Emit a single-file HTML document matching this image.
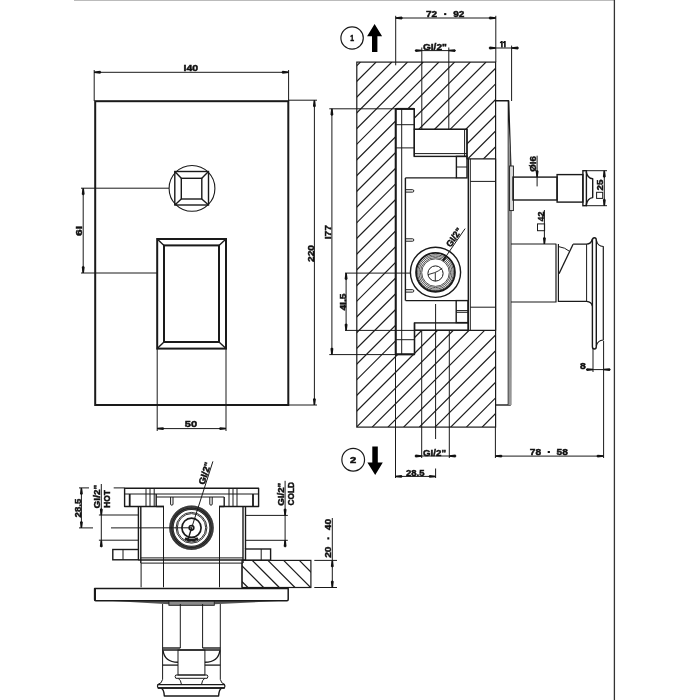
<!DOCTYPE html>
<html><head><meta charset="utf-8"><style>
html,body{margin:0;padding:0;background:#fff;}
svg{display:block;will-change:transform;font-family:"Liberation Sans",sans-serif;}
</style></head><body>
<svg width="700" height="700" viewBox="0 0 700 700">
<rect width="700" height="700" fill="#fff"/>
<line x1="74.00" y1="0.50" x2="614.40" y2="0.50" stroke="#bbb" stroke-width="1.0" />
<line x1="614.40" y1="0.00" x2="614.40" y2="700.00" stroke="#333" stroke-width="1.3" />
<rect x="95.20" y="101.20" width="193.10" height="303.80" stroke="#1a1a1a" stroke-width="2.0" fill="none" />
<line x1="94.20" y1="70.00" x2="94.20" y2="101.00" stroke="#1a1a1a" stroke-width="1.0" />
<line x1="288.60" y1="70.00" x2="288.60" y2="101.00" stroke="#1a1a1a" stroke-width="1.0" />
<line x1="94.20" y1="72.30" x2="288.60" y2="72.30" stroke="#1a1a1a" stroke-width="1.0" />
<polygon points="94.20,71.55 100.20,70.85 101.40,72.30 100.20,73.75 94.20,73.05" fill="#111"/>
<polygon points="288.60,71.55 282.60,70.85 281.40,72.30 282.60,73.75 288.60,73.05" fill="#111"/>
<g transform="translate(190.90 68.10)"><text x="0.00" y="3.28" font-size="9.1" font-weight="bold" text-anchor="middle" fill="#111" stroke="#111" stroke-width="0.45" textLength="14.6" lengthAdjust="spacingAndGlyphs">I40</text></g>
<circle cx="192.00" cy="188.40" r="22.90" stroke="#1a1a1a" stroke-width="1.1" fill="none"/>
<rect x="174.80" y="171.50" width="33.70" height="33.50" stroke="#1a1a1a" stroke-width="1.4" fill="none" />
<rect x="181.30" y="178.30" width="20.50" height="20.70" stroke="#1a1a1a" stroke-width="1.4" fill="none" />
<line x1="174.80" y1="171.50" x2="181.30" y2="178.30" stroke="#1a1a1a" stroke-width="1.4" />
<line x1="208.50" y1="171.50" x2="201.80" y2="178.30" stroke="#1a1a1a" stroke-width="1.4" />
<line x1="174.80" y1="205.00" x2="181.30" y2="199.00" stroke="#1a1a1a" stroke-width="1.4" />
<line x1="208.50" y1="205.00" x2="201.80" y2="199.00" stroke="#1a1a1a" stroke-width="1.4" />
<line x1="81.00" y1="188.20" x2="169.00" y2="188.20" stroke="#1a1a1a" stroke-width="1.0" />
<line x1="81.00" y1="273.00" x2="157.20" y2="273.00" stroke="#1a1a1a" stroke-width="1.0" />
<line x1="83.20" y1="188.20" x2="83.20" y2="273.00" stroke="#1a1a1a" stroke-width="1.0" />
<polygon points="82.45,188.20 81.75,194.20 83.20,195.40 84.65,194.20 83.95,188.20" fill="#111"/>
<polygon points="82.45,273.00 81.75,267.00 83.20,265.80 84.65,267.00 83.95,273.00" fill="#111"/>
<g transform="translate(79.00 231.00) rotate(-90)"><text x="0.00" y="3.28" font-size="9.1" font-weight="bold" text-anchor="middle" fill="#111" stroke="#111" stroke-width="0.45" textLength="10" lengthAdjust="spacingAndGlyphs">6I</text></g>
<rect x="157.20" y="239.00" width="68.80" height="109.60" stroke="#1a1a1a" stroke-width="2.0" fill="none" />
<rect x="164.00" y="245.40" width="55.00" height="96.60" stroke="#1a1a1a" stroke-width="2.0" fill="none" />
<line x1="157.20" y1="239.00" x2="164.00" y2="245.40" stroke="#1a1a1a" stroke-width="1.4" />
<line x1="226.00" y1="239.00" x2="219.00" y2="245.40" stroke="#1a1a1a" stroke-width="1.4" />
<line x1="157.20" y1="348.60" x2="164.00" y2="342.00" stroke="#1a1a1a" stroke-width="1.4" />
<line x1="226.00" y1="348.60" x2="219.00" y2="342.00" stroke="#1a1a1a" stroke-width="1.4" />
<line x1="157.20" y1="348.60" x2="157.20" y2="431.00" stroke="#1a1a1a" stroke-width="1.0" />
<line x1="226.00" y1="348.60" x2="226.00" y2="431.00" stroke="#1a1a1a" stroke-width="1.0" />
<line x1="157.20" y1="428.60" x2="226.00" y2="428.60" stroke="#1a1a1a" stroke-width="1.0" />
<polygon points="157.20,427.85 163.20,427.15 164.40,428.60 163.20,430.05 157.20,429.35" fill="#111"/>
<polygon points="226.00,427.85 220.00,427.15 218.80,428.60 220.00,430.05 226.00,429.35" fill="#111"/>
<g transform="translate(190.90 424.20)"><text x="0.00" y="3.28" font-size="9.1" font-weight="bold" text-anchor="middle" fill="#111" stroke="#111" stroke-width="0.45" textLength="12.3" lengthAdjust="spacingAndGlyphs">50</text></g>
<line x1="288.50" y1="100.20" x2="317.00" y2="100.20" stroke="#1a1a1a" stroke-width="1.0" />
<line x1="288.50" y1="405.00" x2="317.00" y2="405.00" stroke="#1a1a1a" stroke-width="1.0" />
<line x1="314.40" y1="100.20" x2="314.40" y2="405.00" stroke="#1a1a1a" stroke-width="1.0" />
<polygon points="313.65,100.20 312.95,106.20 314.40,107.40 315.85,106.20 315.15,100.20" fill="#111"/>
<polygon points="313.65,405.00 312.95,399.00 314.40,397.80 315.85,399.00 315.15,405.00" fill="#111"/>
<g transform="translate(310.50 253.50) rotate(-90)"><text x="0.00" y="3.28" font-size="9.1" font-weight="bold" text-anchor="middle" fill="#111" stroke="#111" stroke-width="0.45" textLength="17" lengthAdjust="spacingAndGlyphs">220</text></g>
<line x1="329.30" y1="108.80" x2="414.30" y2="108.80" stroke="#1a1a1a" stroke-width="1.0" />
<line x1="329.30" y1="354.60" x2="414.30" y2="354.60" stroke="#1a1a1a" stroke-width="1.0" />
<line x1="331.90" y1="108.80" x2="331.90" y2="354.60" stroke="#1a1a1a" stroke-width="1.0" />
<polygon points="331.15,108.80 330.45,114.80 331.90,116.00 333.35,114.80 332.65,108.80" fill="#111"/>
<polygon points="331.15,354.60 330.45,348.60 331.90,347.40 333.35,348.60 332.65,354.60" fill="#111"/>
<g transform="translate(327.80 232.10) rotate(-90)"><text x="0.00" y="3.28" font-size="9.1" font-weight="bold" text-anchor="middle" fill="#111" stroke="#111" stroke-width="0.45" textLength="14.3" lengthAdjust="spacingAndGlyphs">I77</text></g>
<line x1="345.00" y1="273.10" x2="410.00" y2="273.10" stroke="#1a1a1a" stroke-width="1.0" />
<line x1="345.00" y1="330.40" x2="414.50" y2="330.40" stroke="#1a1a1a" stroke-width="1.0" />
<line x1="346.10" y1="273.10" x2="346.10" y2="330.40" stroke="#1a1a1a" stroke-width="1.0" />
<polygon points="345.35,273.10 344.65,279.10 346.10,280.30 347.55,279.10 346.85,273.10" fill="#111"/>
<polygon points="345.35,330.40 344.65,324.40 346.10,323.20 347.55,324.40 346.85,330.40" fill="#111"/>
<g transform="translate(342.40 302.10) rotate(-90)"><text x="0.00" y="3.28" font-size="9.1" font-weight="bold" text-anchor="middle" fill="#111" stroke="#111" stroke-width="0.45" textLength="17" lengthAdjust="spacingAndGlyphs">4I.5</text></g>
<defs><clipPath id="wallclip"><path clip-rule="evenodd" d="M356.8,62.1 H495.6 V427.1 H356.8 Z M395.7,108.7 L414.3,108.7 L414.3,129.3 L467,129.3 L467,158.8 L495.6,158.8 L495.6,330.3 L414.5,330.3 L414.5,354.3 L395.7,354.3 Z"/></clipPath><clipPath id="wall2"><rect x="242" y="560.4" width="68.9" height="27.1"/></clipPath></defs>
<g clip-path="url(#wallclip)" stroke="#1a1a1a" stroke-width="1.2"><line x1="-20.30" y1="427.10" x2="344.70" y2="62.10"/><line x1="-4.60" y1="427.10" x2="360.40" y2="62.10"/><line x1="11.10" y1="427.10" x2="376.10" y2="62.10"/><line x1="26.80" y1="427.10" x2="391.80" y2="62.10"/><line x1="42.50" y1="427.10" x2="407.50" y2="62.10"/><line x1="58.20" y1="427.10" x2="423.20" y2="62.10"/><line x1="73.90" y1="427.10" x2="438.90" y2="62.10"/><line x1="89.60" y1="427.10" x2="454.60" y2="62.10"/><line x1="105.30" y1="427.10" x2="470.30" y2="62.10"/><line x1="121.00" y1="427.10" x2="486.00" y2="62.10"/><line x1="136.70" y1="427.10" x2="501.70" y2="62.10"/><line x1="152.40" y1="427.10" x2="517.40" y2="62.10"/><line x1="168.10" y1="427.10" x2="533.10" y2="62.10"/><line x1="183.80" y1="427.10" x2="548.80" y2="62.10"/><line x1="199.50" y1="427.10" x2="564.50" y2="62.10"/><line x1="215.20" y1="427.10" x2="580.20" y2="62.10"/><line x1="230.90" y1="427.10" x2="595.90" y2="62.10"/><line x1="246.60" y1="427.10" x2="611.60" y2="62.10"/><line x1="262.30" y1="427.10" x2="627.30" y2="62.10"/><line x1="278.00" y1="427.10" x2="643.00" y2="62.10"/><line x1="293.70" y1="427.10" x2="658.70" y2="62.10"/><line x1="309.40" y1="427.10" x2="674.40" y2="62.10"/><line x1="325.10" y1="427.10" x2="690.10" y2="62.10"/><line x1="340.80" y1="427.10" x2="705.80" y2="62.10"/><line x1="356.50" y1="427.10" x2="721.50" y2="62.10"/><line x1="372.20" y1="427.10" x2="737.20" y2="62.10"/><line x1="387.90" y1="427.10" x2="752.90" y2="62.10"/><line x1="403.60" y1="427.10" x2="768.60" y2="62.10"/><line x1="419.30" y1="427.10" x2="784.30" y2="62.10"/><line x1="435.00" y1="427.10" x2="800.00" y2="62.10"/><line x1="450.70" y1="427.10" x2="815.70" y2="62.10"/><line x1="466.40" y1="427.10" x2="831.40" y2="62.10"/><line x1="482.10" y1="427.10" x2="847.10" y2="62.10"/></g>
<rect x="356.80" y="62.10" width="138.80" height="365.00" stroke="#1a1a1a" stroke-width="1.2" fill="none" />
<path d="M395.7,108.7 L414.3,108.7 L414.3,129.3 L467,129.3 L467,158.8 L495.6,158.8 L495.6,330.3 L414.5,330.3 L414.5,354.3 L395.7,354.3 Z" stroke="#1a1a1a" stroke-width="1.2" fill="none" stroke-linejoin="round" />
<line x1="395.70" y1="15.80" x2="395.70" y2="65.30" stroke="#1a1a1a" stroke-width="1.0" />
<line x1="495.80" y1="15.80" x2="495.80" y2="62.10" stroke="#1a1a1a" stroke-width="1.0" />
<line x1="395.70" y1="18.00" x2="495.80" y2="18.00" stroke="#1a1a1a" stroke-width="1.0" />
<polygon points="395.70,17.25 401.70,16.55 402.90,18.00 401.70,19.45 395.70,18.75" fill="#111"/>
<polygon points="495.80,17.25 489.80,16.55 488.60,18.00 489.80,19.45 495.80,18.75" fill="#111"/>
<g transform="translate(445.20 14.00)"><text x="-13.60" y="3.28" font-size="9.1" font-weight="bold" text-anchor="middle" fill="#111" stroke="#111" stroke-width="0.45" textLength="11.2" lengthAdjust="spacingAndGlyphs">72</text><text x="13.60" y="3.28" font-size="9.1" font-weight="bold" text-anchor="middle" fill="#111" stroke="#111" stroke-width="0.45" textLength="11.2" lengthAdjust="spacingAndGlyphs">92</text><rect x="-1.1" y="-0.9" width="2.2" height="2" fill="#111"/></g>
<line x1="421.80" y1="47.50" x2="421.80" y2="129.30" stroke="#1a1a1a" stroke-width="1.0" />
<line x1="448.80" y1="47.50" x2="448.80" y2="129.30" stroke="#1a1a1a" stroke-width="1.0" />
<line x1="416.00" y1="50.60" x2="454.60" y2="50.60" stroke="#1a1a1a" stroke-width="1.0" />
<polygon points="421.80,49.85 415.80,49.15 414.60,50.60 415.80,52.05 421.80,51.35" fill="#111"/>
<polygon points="448.80,49.85 454.80,49.15 456.00,50.60 454.80,52.05 448.80,51.35" fill="#111"/>
<g transform="translate(434.90 47.20)"><text x="0.00" y="3.28" font-size="9.1" font-weight="bold" text-anchor="middle" fill="#111" stroke="#111" stroke-width="0.45" textLength="24" lengthAdjust="spacingAndGlyphs">GI/2&quot;</text></g>
<line x1="511.60" y1="45.60" x2="511.60" y2="101.00" stroke="#1a1a1a" stroke-width="1.0" />
<line x1="489.80" y1="48.00" x2="517.70" y2="48.00" stroke="#1a1a1a" stroke-width="1.0" />
<polygon points="495.80,47.25 489.80,46.55 488.60,48.00 489.80,49.45 495.80,48.75" fill="#111"/>
<polygon points="511.80,47.25 517.80,46.55 519.00,48.00 517.80,49.45 511.80,48.75" fill="#111"/>
<path d="M501.1,40.9 H502.7 V47.4 H501.1 V43 L499.9,43.3 V42.2 Z M504.1,40.9 H505.7 V47.4 H504.1 V43 L502.9,43.3 V42.2 Z" fill="#111"/>
<circle cx="352.10" cy="38.00" r="11.20" stroke="#1a1a1a" stroke-width="1.2" fill="none"/>
<g transform="translate(352.20 38.20)"><text x="0.00" y="3.10" font-size="8.6" font-weight="bold" text-anchor="middle" fill="#111" stroke="#111" stroke-width="0.5" textLength="3.8" lengthAdjust="spacingAndGlyphs">1</text></g>
<polygon points="374.6,23.9 382.1,36.3 377.4,36.3 377.4,52.1 372,52.1 372,36.3 367.1,36.3" fill="#000"/>
<line x1="395.70" y1="108.70" x2="395.70" y2="354.30" stroke="#1a1a1a" stroke-width="2.0" />
<line x1="401.70" y1="108.70" x2="401.70" y2="354.30" stroke="#1a1a1a" stroke-width="1.0" />
<line x1="414.30" y1="108.70" x2="414.30" y2="156.40" stroke="#1a1a1a" stroke-width="1.4" />
<line x1="395.70" y1="108.90" x2="414.30" y2="108.90" stroke="#1a1a1a" stroke-width="2.0" />
<line x1="395.70" y1="124.70" x2="414.30" y2="124.70" stroke="#1a1a1a" stroke-width="1.0" />
<line x1="395.70" y1="147.90" x2="414.30" y2="147.90" stroke="#1a1a1a" stroke-width="1.0" />
<line x1="395.70" y1="339.70" x2="414.50" y2="339.70" stroke="#1a1a1a" stroke-width="1.0" />
<line x1="395.70" y1="354.30" x2="414.50" y2="354.30" stroke="#1a1a1a" stroke-width="2.0" />
<line x1="414.50" y1="322.90" x2="414.50" y2="354.30" stroke="#1a1a1a" stroke-width="1.4" />
<rect x="414.30" y="129.30" width="52.70" height="27.10" stroke="#1a1a1a" stroke-width="1.4" fill="none" />
<line x1="414.30" y1="153.60" x2="467.00" y2="153.60" stroke="#1a1a1a" stroke-width="1.0" />
<line x1="464.60" y1="129.30" x2="464.60" y2="156.40" stroke="#1a1a1a" stroke-width="1.0" />
<rect x="456.40" y="156.40" width="10.60" height="21.50" stroke="#1a1a1a" stroke-width="1.4" fill="none" />
<line x1="456.40" y1="167.00" x2="467.00" y2="167.00" stroke="#1a1a1a" stroke-width="1.0" />
<line x1="405.40" y1="177.90" x2="456.40" y2="177.90" stroke="#1a1a1a" stroke-width="1.4" />
<line x1="405.40" y1="177.90" x2="405.40" y2="300.60" stroke="#1a1a1a" stroke-width="1.4" />
<line x1="405.60" y1="300.60" x2="456.20" y2="300.60" stroke="#1a1a1a" stroke-width="1.4" />
<line x1="468.30" y1="158.80" x2="468.30" y2="330.30" stroke="#1a1a1a" stroke-width="1.4" />
<line x1="470.30" y1="158.80" x2="470.30" y2="330.30" stroke="#1a1a1a" stroke-width="1.0" />
<path d="M405.4,189.70000000000002 H412.6 A1.2,1.2 0 0 1 412.6,192.1 H405.4" stroke="#1a1a1a" stroke-width="1.0" fill="none" stroke-linejoin="round" />
<path d="M405.4,238.8 H412.6 A1.2,1.2 0 0 1 412.6,241.2 H405.4" stroke="#1a1a1a" stroke-width="1.0" fill="none" stroke-linejoin="round" />
<path d="M405.4,289.7 H412.6 A1.2,1.2 0 0 1 412.6,292.09999999999997 H405.4" stroke="#1a1a1a" stroke-width="1.0" fill="none" stroke-linejoin="round" />
<rect x="456.20" y="300.60" width="11.80" height="22.00" stroke="#1a1a1a" stroke-width="1.4" fill="none" />
<line x1="456.20" y1="310.60" x2="468.00" y2="310.60" stroke="#1a1a1a" stroke-width="1.0" />
<line x1="456.20" y1="312.30" x2="468.00" y2="312.30" stroke="#1a1a1a" stroke-width="1.0" />
<rect x="414.50" y="322.90" width="53.70" height="7.40" stroke="#1a1a1a" stroke-width="1.4" fill="none" />
<line x1="470.30" y1="181.40" x2="495.60" y2="181.40" stroke="#1a1a1a" stroke-width="1.0" />
<line x1="470.30" y1="307.20" x2="495.60" y2="307.20" stroke="#1a1a1a" stroke-width="1.0" />
<circle cx="435.50" cy="272.30" r="25.10" stroke="#1a1a1a" stroke-width="1.4" fill="none"/>
<circle cx="435.50" cy="272.30" r="19.40" stroke="#1a1a1a" stroke-width="1.9" fill="none"/>
<circle cx="435.50" cy="272.60" r="17.90" stroke="#1a1a1a" stroke-width="0.75" fill="none"/>
<circle cx="435.50" cy="272.60" r="16.50" stroke="#1a1a1a" stroke-width="0.75" fill="none"/>
<circle cx="435.50" cy="272.60" r="15.10" stroke="#1a1a1a" stroke-width="0.75" fill="none"/>
<circle cx="435.50" cy="272.60" r="13.80" stroke="#1a1a1a" stroke-width="0.75" fill="none"/>
<circle cx="435.50" cy="273.50" r="7.60" stroke="#1a1a1a" stroke-width="1.0" fill="none"/>
<path d="M428.2,274.6 L434.8,272.6 Q438,271.5 442.3,268.2" stroke="#1a1a1a" stroke-width="0.9" fill="none" stroke-linejoin="round" />
<line x1="435.30" y1="272.80" x2="435.30" y2="281.20" stroke="#1a1a1a" stroke-width="0.9" />
<line x1="443.60" y1="259.80" x2="465.10" y2="228.60" stroke="#1a1a1a" stroke-width="1.0" />
<line x1="443.00" y1="260.80" x2="445.80" y2="256.60" stroke="#1a1a1a" stroke-width="2.2" />
<g transform="translate(453.90 237.30) rotate(-56)"><text x="0.00" y="3.28" font-size="9.1" font-weight="bold" text-anchor="middle" fill="#111" stroke="#111" stroke-width="0.45" textLength="21" lengthAdjust="spacingAndGlyphs">GI/2&quot;</text></g>
<line x1="435.60" y1="304.00" x2="435.60" y2="439.00" stroke="#1a1a1a" stroke-width="1.0" />
<line x1="395.50" y1="354.30" x2="395.50" y2="478.00" stroke="#1a1a1a" stroke-width="1.0" />
<line x1="421.70" y1="330.30" x2="421.70" y2="458.00" stroke="#1a1a1a" stroke-width="1.0" />
<line x1="449.30" y1="330.30" x2="449.30" y2="458.00" stroke="#1a1a1a" stroke-width="1.0" />
<line x1="415.70" y1="456.00" x2="454.30" y2="456.00" stroke="#1a1a1a" stroke-width="1.0" />
<polygon points="421.70,455.25 415.70,454.55 414.50,456.00 415.70,457.45 421.70,456.75" fill="#111"/>
<polygon points="449.30,455.25 455.30,454.55 456.50,456.00 455.30,457.45 449.30,456.75" fill="#111"/>
<g transform="translate(434.50 452.30)"><text x="0.00" y="3.28" font-size="9.1" font-weight="bold" text-anchor="middle" fill="#111" stroke="#111" stroke-width="0.45" textLength="23" lengthAdjust="spacingAndGlyphs">GI/2&quot;</text></g>
<line x1="395.50" y1="476.40" x2="435.60" y2="476.40" stroke="#1a1a1a" stroke-width="1.0" />
<line x1="435.60" y1="468.50" x2="435.60" y2="478.00" stroke="#1a1a1a" stroke-width="1.0" />
<polygon points="395.50,475.65 401.50,474.95 402.70,476.40 401.50,477.85 395.50,477.15" fill="#111"/>
<polygon points="435.60,475.65 429.60,474.95 428.40,476.40 429.60,477.85 435.60,477.15" fill="#111"/>
<g transform="translate(415.20 472.30)"><text x="0.00" y="3.28" font-size="9.1" font-weight="bold" text-anchor="middle" fill="#111" stroke="#111" stroke-width="0.45" textLength="18.5" lengthAdjust="spacingAndGlyphs">28.5</text></g>
<line x1="495.40" y1="427.10" x2="495.40" y2="458.00" stroke="#1a1a1a" stroke-width="1.0" />
<line x1="603.60" y1="341.00" x2="603.60" y2="458.00" stroke="#1a1a1a" stroke-width="1.0" />
<line x1="495.40" y1="456.10" x2="603.60" y2="456.10" stroke="#1a1a1a" stroke-width="1.0" />
<polygon points="495.40,455.35 501.40,454.65 502.60,456.10 501.40,457.55 495.40,456.85" fill="#111"/>
<polygon points="603.60,455.35 597.60,454.65 596.40,456.10 597.60,457.55 603.60,456.85" fill="#111"/>
<g transform="translate(548.80 451.90)"><text x="-13.40" y="3.28" font-size="9.1" font-weight="bold" text-anchor="middle" fill="#111" stroke="#111" stroke-width="0.45" textLength="11.3" lengthAdjust="spacingAndGlyphs">78</text><text x="13.40" y="3.28" font-size="9.1" font-weight="bold" text-anchor="middle" fill="#111" stroke="#111" stroke-width="0.45" textLength="11.3" lengthAdjust="spacingAndGlyphs">58</text><rect x="-1.1" y="-0.9" width="2.2" height="2" fill="#111"/></g>
<circle cx="353.20" cy="459.70" r="11.35" stroke="#1a1a1a" stroke-width="1.2" fill="none"/>
<g transform="translate(353.20 459.80)"><text x="0.00" y="3.10" font-size="8.6" font-weight="bold" text-anchor="middle" fill="#111" stroke="#111" stroke-width="0.5" textLength="6.2" lengthAdjust="spacingAndGlyphs">2</text></g>
<polygon points="375.2,475.1 367.4,462.5 372.3,462.5 372.3,446.4 377.8,446.4 377.8,462.5 382.8,462.5" fill="#000"/>
<path d="M495.6,100.7 H508.6 L510.8,166" stroke="#1a1a1a" stroke-width="1.4" fill="none" stroke-linejoin="round" />
<line x1="508.40" y1="100.70" x2="508.40" y2="405.00" stroke="#1a1a1a" stroke-width="1.4" />
<line x1="511.00" y1="210.60" x2="510.80" y2="405.00" stroke="#1a1a1a" stroke-width="1.0" />
<line x1="495.60" y1="405.00" x2="510.80" y2="405.00" stroke="#1a1a1a" stroke-width="1.4" />
<polygon points="508.4,120 510.2,150 511,405 508.4,405" fill="#999"/>
<rect x="509.60" y="166.00" width="3.80" height="44.60" stroke="#1a1a1a" stroke-width="0.9" fill="#ddd" />
<rect x="513.00" y="177.10" width="44.10" height="22.90" stroke="#1a1a1a" stroke-width="1.4" fill="none" />
<rect x="557.10" y="174.60" width="25.80" height="27.50" stroke="#1a1a1a" stroke-width="1.4" fill="none" />
<rect x="582.90" y="170.70" width="3.50" height="35.00" stroke="#1a1a1a" stroke-width="1.4" fill="none" />
<path d="M586.2,171.6 Q587.5,178.5 592.7,178.8 V197.6 Q587.5,198 586.2,205" stroke="#1a1a1a" stroke-width="1.4" fill="none" stroke-linejoin="round" />
<line x1="537.10" y1="155.70" x2="537.10" y2="186.40" stroke="#1a1a1a" stroke-width="1.0" />
<polygon points="536.35,177.10 535.65,171.10 537.10,169.90 538.55,171.10 537.85,177.10" fill="#111"/>
<g transform="translate(532.70 163.90) rotate(-90)"><text x="0.00" y="3.28" font-size="9.1" font-weight="bold" text-anchor="middle" fill="#111" stroke="#111" stroke-width="0.45" textLength="15.7" lengthAdjust="spacingAndGlyphs">ØI6</text></g>
<line x1="586.40" y1="170.70" x2="607.00" y2="170.70" stroke="#1a1a1a" stroke-width="1.0" />
<line x1="586.40" y1="205.70" x2="607.00" y2="205.70" stroke="#1a1a1a" stroke-width="1.0" />
<line x1="604.30" y1="170.70" x2="604.30" y2="205.70" stroke="#1a1a1a" stroke-width="1.0" />
<polygon points="603.55,170.70 602.85,176.70 604.30,177.90 605.75,176.70 605.05,170.70" fill="#111"/>
<polygon points="603.55,205.70 602.85,199.70 604.30,198.50 605.75,199.70 605.05,205.70" fill="#111"/>
<g transform="translate(599.60 185.00) rotate(-90)"><text x="0.00" y="3.28" font-size="9.1" font-weight="bold" text-anchor="middle" fill="#111" stroke="#111" stroke-width="0.45" textLength="10.9" lengthAdjust="spacingAndGlyphs">25</text></g>
<rect x="596.60" y="192.30" width="6.10" height="6.10" stroke="#1a1a1a" stroke-width="1.0" fill="none" />
<path d="M511,244 H556 V302 H511" stroke="#1a1a1a" stroke-width="1.2" fill="none" stroke-linejoin="round" />
<line x1="558.40" y1="244.00" x2="558.40" y2="302.00" stroke="#1a1a1a" stroke-width="1.2" />
<path d="M559,246.7 Q565,247.5 569.3,251.2" stroke="#1a1a1a" stroke-width="1.0" fill="none" stroke-linejoin="round" />
<line x1="559.00" y1="273.70" x2="573.10" y2="244.20" stroke="#1a1a1a" stroke-width="1.3" />
<path d="M573.1,244.2 H586.6 Q591,244 592.4,239" stroke="#1a1a1a" stroke-width="1.3" fill="none" stroke-linejoin="round" />
<line x1="586.60" y1="244.20" x2="586.60" y2="301.40" stroke="#1a1a1a" stroke-width="1.0" />
<path d="M558.4,301.4 H586.6 Q591.5,302 592.4,306" stroke="#1a1a1a" stroke-width="1.3" fill="none" stroke-linejoin="round" />
<path d="M592.4,240 Q592.6,237.8 594.4,237.8 Q596.3,237.8 596.3,240 V346.5 Q596.3,349 594.4,349 Q592.4,349 592.4,346.5 Z" stroke="#1a1a1a" stroke-width="1.4" fill="none" stroke-linejoin="round" />
<path d="M596.3,240 Q597.5,246.2 603.3,246.5 V340 Q597.5,340.5 596.3,346" stroke="#1a1a1a" stroke-width="1.2" fill="none" stroke-linejoin="round" />
<line x1="544.40" y1="210.00" x2="544.40" y2="244.00" stroke="#1a1a1a" stroke-width="1.0" />
<polygon points="543.65,244.00 542.95,238.00 544.40,236.80 545.85,238.00 545.15,244.00" fill="#111"/>
<g transform="translate(541.00 216.40) rotate(-90)"><text x="0.00" y="3.28" font-size="9.1" font-weight="bold" text-anchor="middle" fill="#111" stroke="#111" stroke-width="0.45" textLength="10" lengthAdjust="spacingAndGlyphs">42</text></g>
<rect x="537.50" y="223.90" width="7.10" height="6.80" stroke="#1a1a1a" stroke-width="1.0" fill="none" />
<line x1="593.00" y1="348.00" x2="593.00" y2="372.00" stroke="#1a1a1a" stroke-width="1.0" />
<line x1="586.00" y1="369.60" x2="609.00" y2="369.60" stroke="#1a1a1a" stroke-width="1.0" />
<polygon points="593.00,368.85 587.00,368.15 585.80,369.60 587.00,371.05 593.00,370.35" fill="#111"/>
<polygon points="603.60,368.85 609.60,368.15 610.80,369.60 609.60,371.05 603.60,370.35" fill="#111"/>
<g transform="translate(583.00 366.00)"><text x="0.00" y="3.28" font-size="9.1" font-weight="bold" text-anchor="middle" fill="#111" stroke="#111" stroke-width="0.45" textLength="5.8" lengthAdjust="spacingAndGlyphs">8</text></g>
<path d="M164,506.5 H124.6 V488.3 H258.6 V506.5 H219.1" stroke="#1a1a1a" stroke-width="1.4" fill="none" stroke-linejoin="round" />
<line x1="124.60" y1="494.00" x2="258.60" y2="494.00" stroke="#1a1a1a" stroke-width="1.0" />
<line x1="156.20" y1="497.00" x2="224.20" y2="497.00" stroke="#1a1a1a" stroke-width="1.0" />
<line x1="156.20" y1="494.00" x2="156.20" y2="506.50" stroke="#1a1a1a" stroke-width="1.4" />
<line x1="224.20" y1="497.00" x2="224.20" y2="506.50" stroke="#1a1a1a" stroke-width="1.4" />
<line x1="156.20" y1="506.50" x2="164.00" y2="506.50" stroke="#1a1a1a" stroke-width="1.4" />
<line x1="219.10" y1="506.50" x2="224.20" y2="506.50" stroke="#1a1a1a" stroke-width="1.4" />
<line x1="146.00" y1="488.30" x2="146.00" y2="506.50" stroke="#1a1a1a" stroke-width="1.0" />
<line x1="150.00" y1="488.30" x2="150.00" y2="506.50" stroke="#1a1a1a" stroke-width="1.0" />
<line x1="154.20" y1="488.30" x2="154.20" y2="506.50" stroke="#1a1a1a" stroke-width="1.0" />
<line x1="229.00" y1="488.30" x2="229.00" y2="506.50" stroke="#1a1a1a" stroke-width="1.0" />
<line x1="233.00" y1="488.30" x2="233.00" y2="506.50" stroke="#1a1a1a" stroke-width="1.0" />
<line x1="237.00" y1="488.30" x2="237.00" y2="506.50" stroke="#1a1a1a" stroke-width="1.0" />
<line x1="129.70" y1="494.00" x2="129.70" y2="506.50" stroke="#1a1a1a" stroke-width="1.8" />
<line x1="253.00" y1="494.00" x2="253.00" y2="506.50" stroke="#1a1a1a" stroke-width="1.8" />
<path d="M170.60000000000002,497 V504 A1.2,1.2 0 0 0 173.0,504 V497" stroke="#1a1a1a" stroke-width="1.0" fill="none" stroke-linejoin="round" />
<path d="M209.8,497 V504 A1.2,1.2 0 0 0 212.2,504 V497" stroke="#1a1a1a" stroke-width="1.0" fill="none" stroke-linejoin="round" />
<line x1="138.40" y1="506.50" x2="138.40" y2="549.50" stroke="#1a1a1a" stroke-width="1.4" />
<line x1="140.80" y1="506.50" x2="140.80" y2="563.10" stroke="#1a1a1a" stroke-width="1.4" />
<line x1="243.00" y1="506.50" x2="243.00" y2="563.10" stroke="#1a1a1a" stroke-width="1.4" />
<line x1="245.50" y1="506.50" x2="245.50" y2="549.00" stroke="#1a1a1a" stroke-width="1.4" />
<line x1="163.50" y1="506.50" x2="163.50" y2="587.30" stroke="#1a1a1a" stroke-width="1.0" />
<line x1="219.50" y1="506.50" x2="219.50" y2="587.30" stroke="#1a1a1a" stroke-width="1.0" />
<line x1="140.80" y1="557.90" x2="243.00" y2="557.90" stroke="#1a1a1a" stroke-width="1.0" />
<line x1="138.40" y1="560.00" x2="245.50" y2="560.00" stroke="#1a1a1a" stroke-width="1.4" />
<line x1="140.80" y1="563.10" x2="243.00" y2="563.10" stroke="#1a1a1a" stroke-width="1.0" />
<line x1="141.10" y1="563.10" x2="141.10" y2="587.30" stroke="#1a1a1a" stroke-width="1.0" />
<line x1="242.00" y1="563.10" x2="242.00" y2="587.30" stroke="#1a1a1a" stroke-width="1.0" />
<line x1="98.90" y1="515.00" x2="138.40" y2="515.00" stroke="#1a1a1a" stroke-width="1.0" />
<line x1="98.90" y1="540.20" x2="138.40" y2="540.20" stroke="#1a1a1a" stroke-width="1.0" />
<rect x="112.80" y="549.50" width="25.60" height="10.30" stroke="#1a1a1a" stroke-width="1.4" fill="none" />
<line x1="123.00" y1="549.50" x2="123.00" y2="559.80" stroke="#1a1a1a" stroke-width="1.0" />
<line x1="245.50" y1="515.40" x2="287.80" y2="515.40" stroke="#1a1a1a" stroke-width="1.0" />
<line x1="245.50" y1="540.30" x2="287.80" y2="540.30" stroke="#1a1a1a" stroke-width="1.0" />
<rect x="245.50" y="549.00" width="25.10" height="11.20" stroke="#1a1a1a" stroke-width="1.4" fill="none" />
<line x1="261.20" y1="549.00" x2="261.20" y2="560.20" stroke="#1a1a1a" stroke-width="1.0" />
<circle cx="191.50" cy="527.80" r="20.10" stroke="#1a1a1a" stroke-width="4.4" fill="none"/>
<circle cx="191.50" cy="527.80" r="18.90" stroke="#777" stroke-width="0.45" fill="none"/>
<circle cx="191.50" cy="527.80" r="20.60" stroke="#777" stroke-width="0.45" fill="none"/>
<circle cx="191.50" cy="527.80" r="21.70" stroke="#777" stroke-width="0.45" fill="none"/>
<circle cx="191.50" cy="527.80" r="15.40" stroke="#1a1a1a" stroke-width="0.9" fill="none"/>
<circle cx="191.50" cy="527.80" r="14.20" stroke="#1a1a1a" stroke-width="0.9" fill="none"/>
<circle cx="191.50" cy="527.80" r="9.60" stroke="#1a1a1a" stroke-width="1.7" fill="none"/>
<circle cx="191.50" cy="527.80" r="2.30" stroke="#1a1a1a" stroke-width="1.7" fill="none"/>
<path d="M185.0,538.3 Q191.5,541.8 198.0,538.3" stroke="#1a1a1a" stroke-width="2.6" fill="none" stroke-linejoin="round" />
<line x1="111.00" y1="527.90" x2="191.50" y2="527.80" stroke="#1a1a1a" stroke-width="1.0" />
<line x1="191.70" y1="527.70" x2="212.90" y2="461.40" stroke="#1a1a1a" stroke-width="1.0" />
<line x1="191.70" y1="527.70" x2="187.50" y2="541.00" stroke="#1a1a1a" stroke-width="1.3" />
<g transform="translate(204.60 473.20) rotate(-72)"><text x="0.00" y="3.28" font-size="9.1" font-weight="bold" text-anchor="middle" fill="#111" stroke="#111" stroke-width="0.45" textLength="23" lengthAdjust="spacingAndGlyphs">GI/2&quot;</text></g>
<line x1="79.00" y1="487.90" x2="89.00" y2="487.90" stroke="#1a1a1a" stroke-width="1.0" />
<line x1="113.70" y1="487.90" x2="124.60" y2="487.90" stroke="#1a1a1a" stroke-width="1.0" />
<line x1="79.00" y1="527.90" x2="93.00" y2="527.90" stroke="#1a1a1a" stroke-width="1.0" />
<line x1="81.40" y1="487.90" x2="81.40" y2="527.90" stroke="#1a1a1a" stroke-width="1.0" />
<polygon points="80.65,487.90 79.95,493.90 81.40,495.10 82.85,493.90 82.15,487.90" fill="#111"/>
<polygon points="80.65,527.90 79.95,521.90 81.40,520.70 82.85,521.90 82.15,527.90" fill="#111"/>
<g transform="translate(77.80 508.10) rotate(-90)"><text x="0.00" y="3.28" font-size="9.1" font-weight="bold" text-anchor="middle" fill="#111" stroke="#111" stroke-width="0.45" textLength="18.7" lengthAdjust="spacingAndGlyphs">28.5</text></g>
<line x1="101.30" y1="484.00" x2="101.30" y2="545.40" stroke="#1a1a1a" stroke-width="1.0" />
<polygon points="100.55,515.20 99.85,509.20 101.30,508.00 102.75,509.20 102.05,515.20" fill="#111"/>
<polygon points="100.55,540.40 99.85,546.40 101.30,547.60 102.75,546.40 102.05,540.40" fill="#111"/>
<g transform="translate(97.00 496.60) rotate(-90)"><text x="0.00" y="3.28" font-size="9.1" font-weight="bold" text-anchor="middle" fill="#111" stroke="#111" stroke-width="0.45" textLength="23.6" lengthAdjust="spacingAndGlyphs">GI/2&quot;</text></g>
<g transform="translate(107.20 499.00) rotate(-90)"><text x="0.00" y="3.28" font-size="9.1" font-weight="bold" text-anchor="middle" fill="#111" stroke="#111" stroke-width="0.45" textLength="17.7" lengthAdjust="spacingAndGlyphs">HOT</text></g>
<line x1="285.10" y1="480.80" x2="285.10" y2="546.00" stroke="#1a1a1a" stroke-width="1.0" />
<polygon points="284.35,515.40 283.65,509.40 285.10,508.20 286.55,509.40 285.85,515.40" fill="#111"/>
<polygon points="284.35,540.30 283.65,546.30 285.10,547.50 286.55,546.30 285.85,540.30" fill="#111"/>
<g transform="translate(281.10 494.30) rotate(-90)"><text x="0.00" y="3.28" font-size="9.1" font-weight="bold" text-anchor="middle" fill="#111" stroke="#111" stroke-width="0.45" textLength="23.1" lengthAdjust="spacingAndGlyphs">GI/2&quot;</text></g>
<g transform="translate(290.60 493.80) rotate(-90)"><text x="0.00" y="3.28" font-size="9.1" font-weight="bold" text-anchor="middle" fill="#111" stroke="#111" stroke-width="0.45" textLength="23.4" lengthAdjust="spacingAndGlyphs">COLD</text></g>
<g clip-path="url(#wall2)" stroke="#1a1a1a" stroke-width="1.2"><line x1="205.10" y1="560.40" x2="232.20" y2="587.50"/><line x1="220.80" y1="560.40" x2="247.90" y2="587.50"/><line x1="236.50" y1="560.40" x2="263.60" y2="587.50"/><line x1="252.20" y1="560.40" x2="279.30" y2="587.50"/><line x1="267.90" y1="560.40" x2="295.00" y2="587.50"/><line x1="283.60" y1="560.40" x2="310.70" y2="587.50"/><line x1="299.30" y1="560.40" x2="326.40" y2="587.50"/></g>
<rect x="242.00" y="560.40" width="68.90" height="27.10" stroke="#1a1a1a" stroke-width="1.2" fill="none" />
<line x1="314.30" y1="560.40" x2="337.00" y2="560.40" stroke="#1a1a1a" stroke-width="1.0" />
<line x1="314.30" y1="587.50" x2="337.00" y2="587.50" stroke="#1a1a1a" stroke-width="1.0" />
<line x1="332.30" y1="518.00" x2="332.30" y2="587.50" stroke="#1a1a1a" stroke-width="1.0" />
<polygon points="331.55,560.40 330.85,566.40 332.30,567.60 333.75,566.40 333.05,560.40" fill="#111"/>
<polygon points="331.55,587.50 330.85,581.50 332.30,580.30 333.75,581.50 333.05,587.50" fill="#111"/>
<g transform="translate(328.20 538.40) rotate(-90)"><text x="-13.80" y="3.28" font-size="9.1" font-weight="bold" text-anchor="middle" fill="#111" stroke="#111" stroke-width="0.45" textLength="11.3" lengthAdjust="spacingAndGlyphs">20</text><text x="13.80" y="3.28" font-size="9.1" font-weight="bold" text-anchor="middle" fill="#111" stroke="#111" stroke-width="0.45" textLength="11.3" lengthAdjust="spacingAndGlyphs">40</text><rect x="-1.1" y="-0.9" width="2.2" height="2" fill="#111"/></g>
<polygon points="104,600.6 169,600.6 169,604.2" fill="#555"/>
<polygon points="214.3,600.6 288.2,600.6 214.3,604.2" fill="#555"/>
<path d="M94.6,588.4 H288.2 V599.6 Q288.2,600.8 287,600.8 H95.6 Q94.6,600.8 94.6,599.6 Z" stroke="#1a1a1a" stroke-width="1.5" fill="none" stroke-linejoin="round" />
<line x1="95.00" y1="589.00" x2="95.00" y2="600.40" stroke="#1a1a1a" stroke-width="2.0" />
<rect x="168.90" y="601.20" width="45.40" height="4.10" stroke="#1a1a1a" stroke-width="0.9" fill="#8a8a8a" />
<line x1="162.60" y1="604.00" x2="162.60" y2="648.00" stroke="#1a1a1a" stroke-width="1.0" />
<line x1="180.30" y1="604.00" x2="180.30" y2="648.00" stroke="#1a1a1a" stroke-width="1.0" />
<line x1="202.60" y1="604.00" x2="202.60" y2="648.00" stroke="#1a1a1a" stroke-width="1.0" />
<line x1="220.30" y1="604.00" x2="220.30" y2="648.00" stroke="#1a1a1a" stroke-width="1.0" />
<line x1="162.60" y1="648.00" x2="180.30" y2="648.00" stroke="#1a1a1a" stroke-width="1.4" />
<line x1="202.60" y1="648.00" x2="220.30" y2="648.00" stroke="#1a1a1a" stroke-width="1.4" />
<line x1="162.60" y1="650.00" x2="220.30" y2="650.00" stroke="#1a1a1a" stroke-width="1.4" />
<rect x="178.00" y="650.00" width="26.90" height="25.00" stroke="#1a1a1a" stroke-width="1.0" fill="none" />
<path d="M163,650.5 Q164.5,662 178,662.3" stroke="#1a1a1a" stroke-width="1.4" fill="none" stroke-linejoin="round" />
<path d="M219.9,650.5 Q218.4,662 204.9,662.3" stroke="#1a1a1a" stroke-width="1.4" fill="none" stroke-linejoin="round" />
<line x1="162.60" y1="665.10" x2="178.00" y2="665.10" stroke="#1a1a1a" stroke-width="1.3" />
<line x1="204.90" y1="665.10" x2="220.30" y2="665.10" stroke="#1a1a1a" stroke-width="1.3" />
<line x1="162.60" y1="648.00" x2="162.60" y2="679.40" stroke="#1a1a1a" stroke-width="1.0" />
<line x1="220.30" y1="648.00" x2="220.30" y2="679.40" stroke="#1a1a1a" stroke-width="1.0" />
<path d="M175.8,675 H207.2 Q208.6,676.6 207.2,678.3 H175.8 Q174.4,676.6 175.8,675 Z" stroke="#1a1a1a" stroke-width="1.0" fill="none" stroke-linejoin="round" />
<path d="M178.2,678.3 Q181,680 181.5,684.6 M204.7,678.3 Q202,680 201.5,684.6" stroke="#1a1a1a" stroke-width="1.0" fill="none" stroke-linejoin="round" />
<path d="M162.6,679.4 Q162,683.5 157.5,684.6 M220.3,679.4 Q221,683.5 225,684.6" stroke="#1a1a1a" stroke-width="1.0" fill="none" stroke-linejoin="round" />
<path d="M158,684.6 H224.4 Q225.6,686.2 224.4,688 H158 Q156.8,686.2 158,684.6 Z" stroke="#1a1a1a" stroke-width="1.3" fill="none" stroke-linejoin="round" />
<line x1="158.00" y1="688.00" x2="224.40" y2="688.00" stroke="#1a1a1a" stroke-width="1.6" />
<path d="M161,688.2 Q164,689.5 164.3,696 H218.6 Q219,689.5 221.8,688.2" stroke="#1a1a1a" stroke-width="1.4" fill="none" stroke-linejoin="round" />
</svg></body></html>
